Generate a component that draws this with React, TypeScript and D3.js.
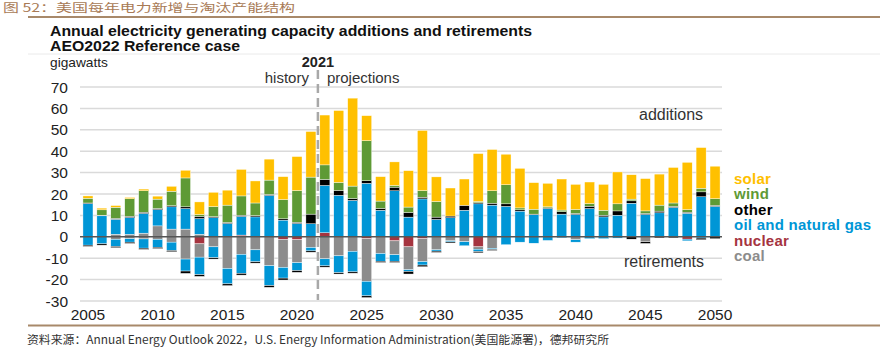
import React from 'react'
import * as d3 from 'd3'

// years 2005..2050
const years = d3.range(2005, 2051)
const xTicks = [2005, 2010, 2015, 2020, 2025, 2030, 2035, 2040, 2045, 2050]
const yTicks = [70, 60, 50, 40, 30, 20, 10, 0, -10, -20, -30]

// additions (GW)
const nuclearAdd = [0,0,0,0,0,0,0,0,0,0,0,0.8,0,0,0,0,0,1.9,0,0,0,0,0,0,0,0,0,0,0,0,0,0,0,0,0,0,0,0,0,0,0,0,0,0,0,0]
const coalAdd = [0,0,1.2,1.2,1.7,5.1,3.6,3.6,1.2,0,0,0,0,0,0,0,0,0,0,0,0,0,0,0,0,0,0,0,0,0,0,0,0,0,0,0,0,0,0,0,0,0,0,0,0,0]
const gasAdd = [15.5,9.8,7.0,7.8,9.2,7.6,10.4,9.6,7.3,8.9,6.2,8.7,9.3,19.3,7.8,6.2,6.1,22.1,19.4,17.0,25.0,12.4,21.5,9.2,17.7,8.1,8.9,12.4,15.4,14.8,14.2,12.0,10.3,13.2,10.6,10.4,13.2,9.3,10.1,15.7,10.4,11.2,13.7,11.0,18.7,14.2]
const otherAdd = [0.3,0.3,0.4,0.6,0.6,0.5,0.5,0.8,1.1,0.5,0.5,0.6,0.6,0.5,0.6,0.6,4.5,2.8,2.3,0.9,1.2,0.9,1.7,2.2,0.8,1.1,0.8,2.3,0.5,0.9,1.2,0.6,0.3,0.3,1.1,0.5,1.1,0.8,2.0,1.1,0.5,0.8,0.5,0.5,2.3,0.5]
const windAdd = [2.2,2.5,5.2,8.2,10.0,4.4,6.8,13.5,0.8,4.7,8.1,9.0,5.9,6.7,9.0,14.8,17.3,6.8,3.7,5.8,18.7,3.4,0.8,2.5,3.1,7.3,0,0,0.6,5.8,8.9,0.9,2.3,0.5,0.8,1.9,1.2,2.3,3.3,0.8,1.2,2.8,1.6,1.2,1.7,3.1]
const solarAdd = [1.1,0.8,0.8,0.6,0.8,1.4,2.3,3.6,5.9,6.7,7.0,12.4,10.3,9.8,10.7,15.9,21.3,23.3,33.6,41.1,11.7,11.4,11.0,17.0,28.1,11.5,13.1,12.3,22.4,19.3,14.3,18.5,12.4,11.0,14.5,11.7,10.1,12.1,14.9,11.4,15.1,14.5,16.6,22.1,19.0,15.2]

// retirements (GW)
const nuclearRet = [0,0,0,0,0,0,0,0,-3.3,0,0,0,0,0,-1.2,-1.4,0,0,0,0,-0.9,0,-1.9,-4.7,-0.9,0,0,0,-4.7,0,0,0,0,0,0,0,0,0,0,0,0,0,0,-1.1,0,0]
const coalRet = [0,0,-1.2,-0.9,-1.0,-1.2,-2.5,-10.4,-6.2,-4.7,-14.8,-8.2,-6.1,-13.5,-13.1,-10.7,-5.0,-10.3,-8.9,-6.8,-19.9,-7.8,-6.5,-10.7,-10.7,-6.1,-1.9,-2.3,-1.1,-5.4,0,0,0,0,0,-1.4,0,0,0,0,-2.3,0,0,0,0,0]
const gasRet = [-3.9,-3.3,-3.3,-1.6,-4.3,-3.7,-3.9,-5.6,-8.2,-5.1,-7.2,-8.9,-5.6,-9.3,-5.0,-3.7,-1.6,-3.3,-7.9,-9.6,-6.8,-3.6,-3.0,-0.8,-1.6,-0.6,-0.5,-1.9,-1.1,-0.5,-3.7,-2.5,-3.0,-1.7,-0.5,-1.1,-0.9,-0.9,-0.6,0,0,0,0,-0.8,-0.6,0]
const otherRet = [-0.6,-0.6,-0.6,-0.6,-0.6,-0.6,-0.6,-1.1,-0.8,-0.6,-0.8,-0.8,-0.6,-0.8,-0.9,-0.8,-0.6,-0.6,-0.6,-0.6,-0.8,-0.6,-0.6,-1.2,-0.8,-0.6,-0.5,0,-0.6,-0.5,0,0,0,0,0,0,0,0,0,-1.1,-0.8,-0.5,-0.5,0,-0.8,-0.9]

const legendItems = [
  { label: 'solar', color: '#FFC000' },
  { label: 'wind', color: '#5E9A35' },
  { label: 'other', color: '#000000' },
  { label: 'oil and natural gas', color: '#0096D6' },
  { label: 'nuclear', color: '#A5343F' },
  { label: 'coal', color: '#8C8C8C' },
]

const seriesInfo: { key: string; values: number[]; color: string }[] = [
  { key: 'nuclearAdd', values: nuclearAdd, color: '#A5343F' },
  { key: 'coalAdd', values: coalAdd, color: '#8C8C8C' },
  { key: 'gasAdd', values: gasAdd, color: '#0096D6' },
  { key: 'otherAdd', values: otherAdd, color: '#000000' },
  { key: 'windAdd', values: windAdd, color: '#5E9A35' },
  { key: 'solarAdd', values: solarAdd, color: '#FFC000' },
  { key: 'nuclearRet', values: nuclearRet, color: '#A5343F' },
  { key: 'coalRet', values: coalRet, color: '#8C8C8C' },
  { key: 'gasRet', values: gasRet, color: '#0096D6' },
  { key: 'otherRet', values: otherRet, color: '#000000' },
]

const FONT = '"Liberation Sans", Arial, sans-serif'
const CJK = '"Noto Sans CJK SC", sans-serif'

export default function App() {
  const width = 880
  const height = 353
  const plotLeft = 81
  const plotRight = 722

  const x = d3.scaleBand<number>()
    .domain(years)
    .range([plotLeft, plotRight])
    .paddingInner(0.28)
    .paddingOuter(0.14)

  const y = d3.scaleLinear().domain([-30, 70]).range([301, 87])

  const rows = years.map((yr, i) => {
    const r: any = { year: yr }
    seriesInfo.forEach(s => { r[s.key] = s.values[i] })
    return r
  })

  const stacked = d3.stack<any>()
    .keys(seriesInfo.map(s => s.key))
    .offset(d3.stackOffsetDiverging)(rows)

  const splitX = (x(2021)! + x(2022)! + x.bandwidth()) / 2

  return (
    <svg width={width} height={height} style={{ position: 'absolute', left: 0, top: 0, background: '#fff' }}>
      {/* report caption */}
      <text x={3} y={11.5} fontFamily={CJK} fontSize={11.5} fill="#A87A55" textLength={292} lengthAdjust="spacingAndGlyphs">图 52：美国每年电力新增与淘汰产能结构</text>
      <line x1={28} x2={880} y1={17} y2={17} stroke="#A8896A" strokeWidth={2} />

      {/* chart titles */}
      <text x={50} y={36} fontFamily={FONT} fontSize={14} fontWeight="bold" fill="#111" textLength={482} lengthAdjust="spacingAndGlyphs">Annual electricity generating capacity additions and retirements</text>
      <text x={50} y={51} fontFamily={FONT} fontSize={14} fontWeight="bold" fill="#111" textLength={190} lengthAdjust="spacingAndGlyphs">AEO2022 Reference case</text>
      <line x1={28} x2={880} y1={54} y2={54} stroke="#EAEAEA" strokeWidth={1} />
      <text x={50} y={67} fontFamily={FONT} fontSize={13.5} fill="#222" textLength={58} lengthAdjust="spacingAndGlyphs">gigawatts</text>
      <text x={splitX} y={67} fontFamily={FONT} fontSize={14.5} fontWeight="bold" fill="#222" textAnchor="middle">2021</text>
      <text x={splitX - 9} y={83} fontFamily={FONT} fontSize={15} fill="#333" textAnchor="end">history</text>
      <text x={splitX + 9} y={83} fontFamily={FONT} fontSize={15} fill="#333">projections</text>

      {/* gridlines */}
      {yTicks.filter(t => t !== 0).map(t => (
        <line key={t} x1={plotLeft - 1} x2={plotRight} y1={y(t)} y2={y(t)} stroke="#DADADA" strokeWidth={1.5} />
      ))}
      {yTicks.map(t => (
        <text key={'l' + t} x={68} y={y(t) + 5.5} fontFamily={FONT} fontSize={15.5} fill="#222" textAnchor="end">{t}</text>
      ))}

      {/* bars */}
      {stacked.map((layer, li) => (
        <g key={layer.key} fill={seriesInfo[li].color}>
          {layer.map((d, i) => {
            const h = Math.abs(y(d[0]) - y(d[1]))
            if (h < 0.01) return null
            return (
              <rect key={i} x={x(years[i])} y={Math.min(y(d[0]), y(d[1]))} width={x.bandwidth()} height={h}
                stroke="#ffffff" strokeWidth={0.4} />
            )
          })}
        </g>
      ))}

      {/* zero line */}
      <line x1={plotLeft - 1} x2={plotRight} y1={y(0)} y2={y(0)} stroke="#555" strokeWidth={1.5} />

      {/* history / projections divider */}
      <line x1={splitX} x2={splitX} y1={70} y2={300} stroke="#A8A8A8" strokeWidth={2.5} strokeDasharray="9,5" />

      {/* x labels */}
      {xTicks.map(t => (
        <text key={t} x={x(t)! + x.bandwidth() / 2} y={320} fontFamily={FONT} fontSize={15.5} fill="#222" textAnchor="middle">{t}</text>
      ))}

      <text x={639} y={120} fontFamily={FONT} fontSize={16} fill="#333">additions</text>
      <text x={624} y={267} fontFamily={FONT} fontSize={16} fill="#333">retirements</text>

      {/* legend */}
      {legendItems.map((d, i) => (
        <text key={d.label} x={734} y={183.5 + i * 15.5} fontFamily={FONT} fontSize={15} fontWeight="bold" fill={d.color} letterSpacing={0.25}>{d.label}</text>
      ))}

      {/* source */}
      <line x1={28} x2={880} y1={325.5} y2={325.5} stroke="#A8896A" strokeWidth={2} />
      <text x={27} y={344} fontFamily={CJK} fontSize={11.5} fill="#333" textLength={582} lengthAdjust="spacingAndGlyphs">资料来源：Annual Energy Outlook 2022，U.S. Energy Information Administration(美国能源署)，德邦研究所</text>
    </svg>
  )
}
